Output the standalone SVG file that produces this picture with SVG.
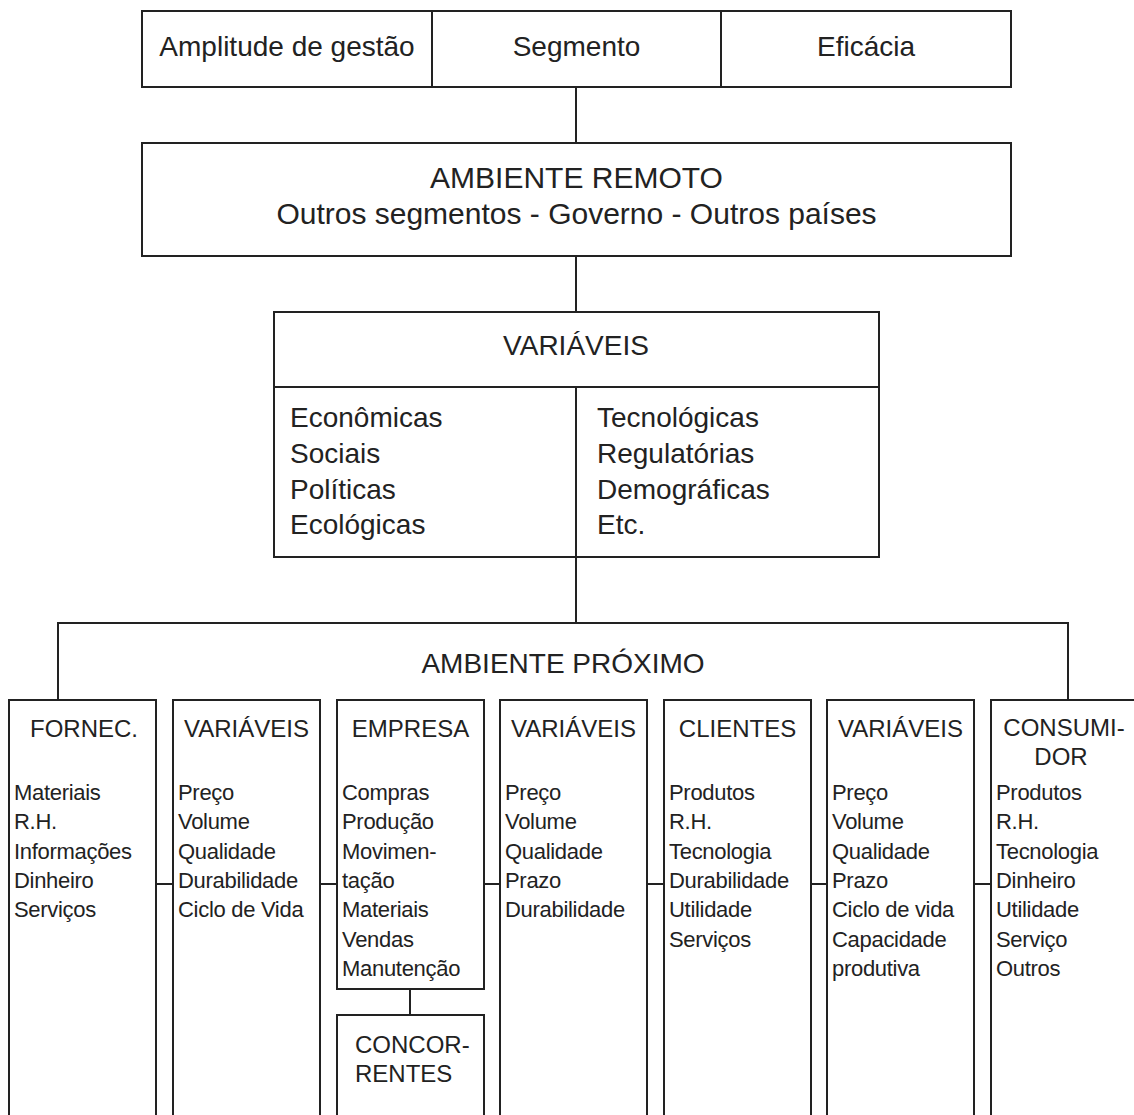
<svg xmlns="http://www.w3.org/2000/svg" width="1134" height="1115" viewBox="0 0 1134 1115">
<style>
.bx{fill:#fff;stroke:#222;stroke-width:2}
.ln{fill:none;stroke:#222;stroke-width:2}
text{font-family:"Liberation Sans",Arial,sans-serif;fill:#222}
.big{font-size:28px;text-anchor:middle}
.rem{font-size:30px;text-anchor:middle}
.lst{font-size:28px}
.ttl{font-size:24px;text-anchor:middle}
.itm{font-size:22px;letter-spacing:-0.3px}
</style>
<rect width="1134" height="1115" fill="#fff"/>
<g id="connectors">
<line class="ln" x1="576" y1="87" x2="576" y2="143"/>
<line class="ln" x1="576" y1="256" x2="576" y2="312"/>
<line class="ln" x1="576" y1="557" x2="576" y2="623"/>
<polyline class="ln" points="58,700 58,623 1068,623 1068,700"/>
<line class="ln" x1="156" y1="884" x2="173" y2="884"/>
<line class="ln" x1="320" y1="884" x2="337" y2="884"/>
<line class="ln" x1="484" y1="884" x2="500" y2="884"/>
<line class="ln" x1="647" y1="884" x2="664" y2="884"/>
<line class="ln" x1="811" y1="884" x2="827" y2="884"/>
<line class="ln" x1="974" y1="884" x2="991" y2="884"/>
<line class="ln" x1="410" y1="989" x2="410" y2="1015"/>
</g>
<g id="amplitude">
<rect class="bx" x="142" y="11" width="290" height="76"/>
<text class="big" x="287" y="56">Amplitude de gestão</text>
</g>
<g id="segmento">
<rect class="bx" x="432" y="11" width="289" height="76"/>
<text class="big" x="576.5" y="56">Segmento</text>
</g>
<g id="eficacia">
<rect class="bx" x="721" y="11" width="290" height="76"/>
<text class="big" x="866" y="56">Eficácia</text>
</g>
<g id="ambiente-remoto">
<rect class="bx" x="142" y="143" width="869" height="113"/>
<text class="rem" x="576.5" y="188">AMBIENTE REMOTO</text>
<text class="rem" x="576.5" y="224">Outros segmentos - Governo - Outros países</text>
</g>
<g id="variaveis">
<rect class="bx" x="274" y="312" width="605" height="245"/>
<line class="ln" x1="274" y1="387" x2="879" y2="387"/>
<line class="ln" x1="576" y1="387" x2="576" y2="557"/>
<text class="big" x="576" y="355">VARIÁVEIS</text>
<text class="lst" x="290" y="427">Econômicas</text>
<text class="lst" x="290" y="463">Sociais</text>
<text class="lst" x="290" y="499">Políticas</text>
<text class="lst" x="290" y="534">Ecológicas</text>
<text class="lst" x="597" y="427">Tecnológicas</text>
<text class="lst" x="597" y="463">Regulatórias</text>
<text class="lst" x="597" y="499">Demográficas</text>
<text class="lst" x="597" y="534">Etc.</text>
</g>
<g id="ambiente-proximo">
<text class="big" x="563" y="673">AMBIENTE PRÓXIMO</text>
</g>
<g id="fornec">
<rect class="bx" x="9" y="700" width="147" height="430"/>
<text class="ttl" x="84" y="737">FORNEC.</text>
<text class="itm" x="14" y="800">Materiais</text>
<text class="itm" x="14" y="829.3">R.H.</text>
<text class="itm" x="14" y="858.6">Informações</text>
<text class="itm" x="14" y="887.9">Dinheiro</text>
<text class="itm" x="14" y="917.2">Serviços</text>
</g>
<g id="variaveis-1">
<rect class="bx" x="173" y="700" width="147" height="430"/>
<text class="ttl" x="246.5" y="737">VARIÁVEIS</text>
<text class="itm" x="178" y="800">Preço</text>
<text class="itm" x="178" y="829.3">Volume</text>
<text class="itm" x="178" y="858.6">Qualidade</text>
<text class="itm" x="178" y="887.9">Durabilidade</text>
<text class="itm" x="178" y="917.2">Ciclo de Vida</text>
</g>
<g id="empresa">
<rect class="bx" x="337" y="700" width="147" height="289"/>
<text class="ttl" x="410.5" y="737">EMPRESA</text>
<text class="itm" x="342" y="800">Compras</text>
<text class="itm" x="342" y="829.3">Produção</text>
<text class="itm" x="342" y="858.6">Movimen-</text>
<text class="itm" x="342" y="887.9">tação</text>
<text class="itm" x="342" y="917.2">Materiais</text>
<text class="itm" x="342" y="946.5">Vendas</text>
<text class="itm" x="342" y="975.8">Manutenção</text>
</g>
<g id="concorrentes">
<rect class="bx" x="337" y="1015" width="147" height="115"/>
<text class="ttl" x="355" y="1053" text-anchor="start" style="text-anchor:start">CONCOR-</text>
<text class="ttl" x="355" y="1082" style="text-anchor:start">RENTES</text>
</g>
<g id="variaveis-2">
<rect class="bx" x="500" y="700" width="147" height="430"/>
<text class="ttl" x="573.5" y="737">VARIÁVEIS</text>
<text class="itm" x="505" y="800">Preço</text>
<text class="itm" x="505" y="829.3">Volume</text>
<text class="itm" x="505" y="858.6">Qualidade</text>
<text class="itm" x="505" y="887.9">Prazo</text>
<text class="itm" x="505" y="917.2">Durabilidade</text>
</g>
<g id="clientes">
<rect class="bx" x="664" y="700" width="147" height="430"/>
<text class="ttl" x="737.5" y="737">CLIENTES</text>
<text class="itm" x="669" y="800">Produtos</text>
<text class="itm" x="669" y="829.3">R.H.</text>
<text class="itm" x="669" y="858.6">Tecnologia</text>
<text class="itm" x="669" y="887.9">Durabilidade</text>
<text class="itm" x="669" y="917.2">Utilidade</text>
<text class="itm" x="669" y="946.5">Serviços</text>
</g>
<g id="variaveis-3">
<rect class="bx" x="827" y="700" width="147" height="430"/>
<text class="ttl" x="900.5" y="737">VARIÁVEIS</text>
<text class="itm" x="832" y="800">Preço</text>
<text class="itm" x="832" y="829.3">Volume</text>
<text class="itm" x="832" y="858.6">Qualidade</text>
<text class="itm" x="832" y="887.9">Prazo</text>
<text class="itm" x="832" y="917.2">Ciclo de vida</text>
<text class="itm" x="832" y="946.5">Capacidade</text>
<text class="itm" x="832" y="975.8">produtiva</text>
</g>
<g id="consumidor">
<rect class="bx" x="991" y="700" width="150" height="430"/>
<text class="ttl" x="1064" y="736">CONSUMI-</text>
<text class="ttl" x="1061" y="765">DOR</text>
<text class="itm" x="996" y="800">Produtos</text>
<text class="itm" x="996" y="829.3">R.H.</text>
<text class="itm" x="996" y="858.6">Tecnologia</text>
<text class="itm" x="996" y="887.9">Dinheiro</text>
<text class="itm" x="996" y="917.2">Utilidade</text>
<text class="itm" x="996" y="946.5">Serviço</text>
<text class="itm" x="996" y="975.8">Outros</text>
</g>
</svg>
